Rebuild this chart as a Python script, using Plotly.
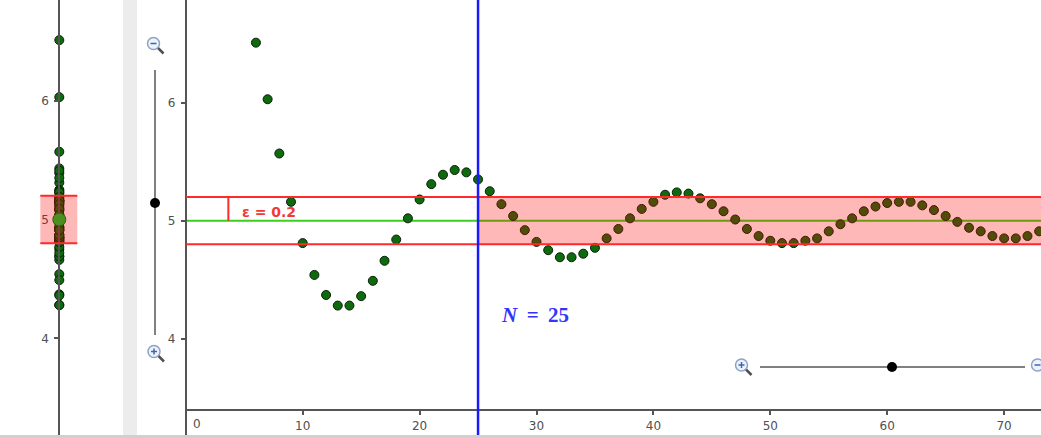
import plotly.graph_objects as go

# ---------------- data ----------------
n_vals = list(range(6, 74))
a_vals = [6.51, 6.03, 5.57, 5.16, 4.81, 4.54, 4.37, 4.28, 4.28, 4.36,
          4.49, 4.66, 4.84, 5.02, 5.18, 5.31, 5.39, 5.43, 5.41,
          5.35, 5.25, 5.14, 5.04, 4.92, 4.82, 4.75, 4.69, 4.69, 4.72,
          4.77, 4.85, 4.93, 5.02, 5.10, 5.16, 5.22,
          5.24, 5.23, 5.19, 5.14, 5.08, 5.01, 4.93, 4.87, 4.83, 4.81,
          4.81, 4.83, 4.85, 4.91, 4.97, 5.02,
          5.08, 5.12, 5.15, 5.16, 5.16, 5.13, 5.09, 5.04, 4.99, 4.94,
          4.91, 4.87, 4.85, 4.85, 4.87, 4.91]
L = 5
EPS = 0.2
N = 25
x_ticks = [10, 20, 30, 40, 50, 60, 70]
y_ticks = [4, 5, 6]

# ---------------- layout geometry ----------------
W, H = 1041, 438


def px(x):
    return x / W


def py(y):
    return 1 - y / H


X0_PX, X_SCALE = 185.8, 11.69      # main view: pixel of x=0, px per unit
YL_PX, Y_SCALE = 220.7, 117.9      # main view: pixel of y=L, px per unit
VIEW_LEFT, VIEW_BOTTOM = 138, 435
XAXIS_PX = 410
x_range = [(VIEW_LEFT - X0_PX) / X_SCALE, (W - X0_PX) / X_SCALE]
y_range = [L - (VIEW_BOTTOM - YL_PX) / Y_SCALE, L + YL_PX / Y_SCALE]
xaxis_y = L - (XAXIS_PX - YL_PX) / Y_SCALE

LEFT_AX_PX = 59.3
YL2_PX, Y2_SCALE = 219.5, 118.8
y2_range = [L - (VIEW_BOTTOM - YL2_PX) / Y2_SCALE, L + YL2_PX / Y2_SCALE]

AX_COL = "#555555"
TICK_FONT = dict(family="DejaVu Sans", size=12, color="#505050")
RED = "#ff2a2a"
PINK = "rgba(255,0,0,0.28)"
DOT = dict(size=9, color="#0d6a0d", line=dict(color="#0a200a", width=1))

fig = go.Figure()

# main view dots
fig.add_trace(go.Scatter(
    x=n_vals, y=a_vals, mode="markers", xaxis="x", yaxis="y",
    marker=DOT, hoverinfo="skip", showlegend=False))

# left view dots (projection of values)
fig.add_trace(go.Scatter(
    x=[0] * len(a_vals), y=a_vals, mode="markers", xaxis="x2", yaxis="y2",
    marker=DOT, hoverinfo="skip", showlegend=False))

shapes = []
# paper decorations
shapes.append(dict(type="rect", xref="paper", yref="paper", x0=px(123), x1=px(137),
                   y0=0, y1=1, fillcolor="#ececec", line=dict(width=0), layer="below"))
shapes.append(dict(type="rect", xref="paper", yref="paper", x0=0, x1=1,
                   y0=0, y1=py(435), fillcolor="#d0d0d0", line=dict(width=0), layer="above"))

# main view
shapes.append(dict(type="line", xref="x", yref="y", x0=0, x1=x_range[1], y0=L, y1=L,
                   line=dict(color="#3ad11a", width=2), layer="below"))
shapes.append(dict(type="line", xref="x", yref="y", x0=0, x1=x_range[1], y0=xaxis_y, y1=xaxis_y,
                   line=dict(color=AX_COL, width=2), layer="above"))
shapes.append(dict(type="rect", xref="x", yref="y", x0=N, x1=x_range[1],
                   y0=L - EPS, y1=L + EPS, fillcolor=PINK, line=dict(width=0), layer="above"))
for yy in (L - EPS, L + EPS):
    shapes.append(dict(type="line", xref="x", yref="y", x0=0, x1=x_range[1], y0=yy, y1=yy,
                       line=dict(color=RED, width=2), layer="above"))
EPS_MARK_X = 3.64
shapes.append(dict(type="line", xref="x", yref="y", x0=EPS_MARK_X, x1=EPS_MARK_X,
                   y0=L, y1=L + EPS, line=dict(color=RED, width=2), layer="above"))
shapes.append(dict(type="line", xref="x", yref="y", x0=N, x1=N, y0=y_range[0], y1=y_range[1],
                   line=dict(color="#1a1aff", width=2.5), layer="above"))

# left view
shapes.append(dict(type="rect", xref="x2", yref="y2", x0=-19, x1=18,
                   y0=L - EPS, y1=L + EPS, fillcolor=PINK, line=dict(width=0), layer="above"))
for yy in (L - EPS, L + EPS):
    shapes.append(dict(type="line", xref="x2", yref="y2", x0=-19, x1=18, y0=yy, y1=yy,
                       line=dict(color=RED, width=2), layer="above"))
shapes.append(dict(type="circle", xref="x2", yref="y2", xsizemode="pixel", ysizemode="pixel",
                   xanchor=0, yanchor=L, x0=-6.5, x1=6.5, y0=-6.5, y1=6.5,
                   fillcolor="#4b8f1f", line=dict(color="#2f5f12", width=1), layer="above"))

# sliders
shapes.append(dict(type="line", xref="paper", yref="paper", x0=px(155), x1=px(155),
                   y0=py(70), y1=py(335), line=dict(color="#808080", width=2)))
shapes.append(dict(type="line", xref="paper", yref="paper", x0=px(760), x1=px(1025),
                   y0=py(367), y1=py(367), line=dict(color="#808080", width=2)))
for cx, cy in ((155, 203), (892, 367)):
    shapes.append(dict(type="circle", xref="paper", yref="paper", x0=px(cx - 5), x1=px(cx + 5),
                       y0=py(cy + 5), y1=py(cy - 5), fillcolor="black", line=dict(width=0)))


def magnifier(cx, cy, plus):
    r = 6
    out = [
        dict(type="line", xref="paper", yref="paper", x0=px(cx + 4), x1=px(cx + 10),
             y0=py(cy + 4), y1=py(cy + 10), line=dict(color="#505050", width=2.5)),
        dict(type="circle", xref="paper", yref="paper", x0=px(cx - r), x1=px(cx + r),
             y0=py(cy + r), y1=py(cy - r), fillcolor="#eef3fb",
             line=dict(color="#8ea3c2", width=1.5)),
        dict(type="line", xref="paper", yref="paper", x0=px(cx - 3), x1=px(cx + 3),
             y0=py(cy), y1=py(cy), line=dict(color="#3a64c0", width=1.5)),
    ]
    if plus:
        out.append(dict(type="line", xref="paper", yref="paper", x0=px(cx), x1=px(cx),
                        y0=py(cy - 3), y1=py(cy + 3), line=dict(color="#3a64c0", width=1.5)))
    return out


shapes += magnifier(153.5, 43.5, False)
shapes += magnifier(154, 351.5, True)
shapes += magnifier(741.5, 365, True)
shapes += magnifier(1037.5, 365, False)

annotations = [
    dict(xref="paper", yref="paper", x=px(197), y=py(424), text="0", showarrow=False,
         font=TICK_FONT, xanchor="center", yanchor="middle"),
    dict(xref="x", yref="y", x=(240 - X0_PX) / X_SCALE, y=L + (YL_PX - 212) / Y_SCALE,
         text=f"<b>ε = {EPS}</b>", showarrow=False, xanchor="left", yanchor="middle",
         font=dict(family="DejaVu Sans", size=14, color="#f03a3a")),
    dict(xref="x", yref="y", x=(499 - X0_PX) / X_SCALE, y=L - (315 - YL_PX) / Y_SCALE,
         text=f"<b><i>N</i>&#8201; = &#8201;{N}</b>", showarrow=False, xanchor="left",
         yanchor="middle",
         font=dict(family="Liberation Serif", size=21, color="#3434ff")),
]

fig.update_layout(
    width=W, height=H, autosize=False,
    margin=dict(l=0, r=0, t=0, b=0),
    paper_bgcolor="white", plot_bgcolor="white",
    showlegend=False,
    shapes=shapes, annotations=annotations,
    xaxis=dict(domain=[px(VIEW_LEFT), 1], range=x_range, anchor="free", position=py(XAXIS_PX),
               side="bottom", tickvals=x_ticks, ticks="outside", ticklen=4, tickcolor=AX_COL,
               tickwidth=1.5, tickfont=TICK_FONT, showline=False, showgrid=False,
               zeroline=False, ticklabelstandoff=1, fixedrange=True),
    yaxis=dict(domain=[1 - VIEW_BOTTOM / H, 1], range=y_range, anchor="free", position=px(X0_PX),
               side="left", tickvals=y_ticks, ticks="outside", ticklen=4, tickcolor=AX_COL,
               tickwidth=1.5, tickfont=TICK_FONT, showline=True, linecolor=AX_COL, linewidth=2,
               showgrid=False, zeroline=False, ticklabelstandoff=3, fixedrange=True),
    xaxis2=dict(domain=[0, px(123)], range=[-LEFT_AX_PX, 123 - LEFT_AX_PX], anchor="y2",
                visible=False, fixedrange=True),
    yaxis2=dict(domain=[1 - VIEW_BOTTOM / H, 1], range=y2_range, anchor="free",
                position=px(LEFT_AX_PX), side="left", tickvals=y_ticks, ticks="outside",
                ticklen=4, tickcolor=AX_COL, tickwidth=1.5, tickfont=TICK_FONT, showline=True,
                linecolor=AX_COL, linewidth=2, showgrid=False, zeroline=False,
                ticklabelstandoff=3, fixedrange=True),
)

fig.write_html(
    "out.html",
    config={"displayModeBar": False},
    post_script="document.body.style.margin='0';document.body.style.overflow='hidden';",
)
